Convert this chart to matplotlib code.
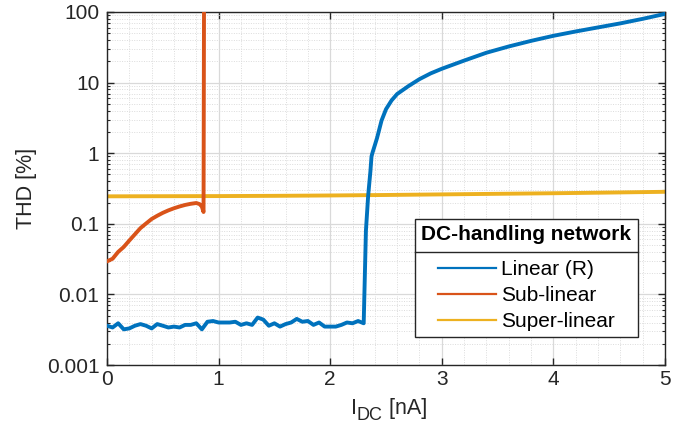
import numpy as np
import matplotlib
matplotlib.use("Agg")
import matplotlib.pyplot as plt
from matplotlib.lines import Line2D
from matplotlib.ticker import MultipleLocator, LogLocator, NullFormatter

plt.rcParams['font.family'] = ['Liberation Sans', 'DejaVu Sans']

# ---- data -------------------------------------------------------------
# Linear (R): noise floor up to 2.3 nA, then breakdown
linear_x = [0.00, 0.05, 0.10, 0.15, 0.20, 0.25, 0.30, 0.35, 0.40, 0.45,
            0.50, 0.55, 0.60, 0.65, 0.70, 0.75, 0.80, 0.85, 0.90, 0.95,
            1.00, 1.05, 1.10, 1.15, 1.20, 1.25, 1.30, 1.35, 1.40, 1.45,
            1.50, 1.55, 1.60, 1.65, 1.70, 1.75, 1.80, 1.85, 1.90, 1.95,
            2.00, 2.05, 2.10, 2.15, 2.20, 2.25, 2.30,
            2.32, 2.34, 2.36, 2.37, 2.38, 2.40, 2.42, 2.46, 2.50, 2.55,
            2.60, 2.70, 2.80, 2.90, 3.00, 3.20, 3.40, 3.60, 3.80, 4.00,
            4.20, 4.40, 4.60, 4.80, 5.00]
linear_thd = [0.0036, 0.0034, 0.0039, 0.0032, 0.0033, 0.0036, 0.0038, 0.0036, 0.0033, 0.0038,
              0.0036, 0.0034, 0.0035, 0.0034, 0.0037, 0.0037, 0.0039, 0.0032, 0.0041, 0.0042,
              0.0040, 0.0040, 0.0040, 0.0041, 0.0037, 0.0039, 0.0037, 0.0047, 0.0044, 0.0036,
              0.0039, 0.0035, 0.0038, 0.0040, 0.0045, 0.0041, 0.0042, 0.0037, 0.0040, 0.0035,
              0.0035, 0.0035, 0.0037, 0.0040, 0.0039, 0.0042, 0.0039,
              0.08, 0.25, 0.55, 0.9, 1.03, 1.3, 1.65, 2.9, 4.2, 5.6,
              6.9, 8.9, 11.2, 13.5, 15.7, 20.5, 26.5, 32.5, 39.0, 46.0,
              53.0, 60.5, 69.0, 80.0, 94.0]

# Sub-linear: rises until ~0.87 nA, then diverges
sub_x = [0.00, 0.05, 0.10, 0.15, 0.20, 0.25, 0.30, 0.35, 0.40, 0.45,
         0.50, 0.55, 0.60, 0.65, 0.70, 0.75, 0.80, 0.83, 0.85, 0.865, 0.872]
sub_thd = [0.0294, 0.032, 0.040, 0.047, 0.058, 0.071, 0.087, 0.101, 0.117, 0.130,
           0.143, 0.155, 0.166, 0.176, 0.185, 0.192, 0.197, 0.190, 0.175, 0.147, 1.0e4]

# Super-linear: nearly flat
super_x = [0.0, 0.5, 1.0, 1.5, 2.0, 2.5, 3.0, 3.5, 4.0, 4.5, 5.0]
super_thd = [0.245, 0.246, 0.247, 0.249, 0.252, 0.256, 0.261, 0.266, 0.271, 0.277, 0.284]

series_labels = ['Linear (R)', 'Sub-linear', 'Super-linear']
series_colors = ['#0072BD', '#D95319', '#EDB120']
legend_title = 'DC-handling network'

y_ticks = [0.001, 0.01, 0.1, 1, 10, 100]
y_ticklabels = ['0.001', '0.01', '0.1', '1', '10', '100']
x_ticks = [0, 1, 2, 3, 4, 5]

# ---- figure -----------------------------------------------------------
fig = plt.figure(figsize=(6.89, 4.41), dpi=100)
ax = fig.add_axes([0.1553, 0.1723, 0.8099, 0.8005])

axis_col = '#262626'
ax.plot(linear_x, linear_thd, color=series_colors[0], lw=2.8, label=series_labels[0],
        solid_joinstyle='round', zorder=3)
ax.plot(sub_x, sub_thd, color=series_colors[1], lw=2.8, label=series_labels[1],
        solid_joinstyle='round', zorder=3)
ax.plot(super_x, super_thd, color=series_colors[2], lw=2.8, label=series_labels[2],
        solid_joinstyle='round', zorder=2)

ax.set_yscale('log')
ax.set_xlim(0, 5)
ax.set_ylim(1e-3, 100)
ax.set_yticks(y_ticks)
ax.set_yticklabels(y_ticklabels)
ax.yaxis.set_minor_locator(LogLocator(base=10, subs=np.arange(2, 10), numticks=20))
ax.yaxis.set_minor_formatter(NullFormatter())
ax.set_xticks(x_ticks)
ax.xaxis.set_minor_locator(MultipleLocator(0.2))

ax.grid(True, which='major', color='#d9d9d9', lw=0.9, ls='-', zorder=0)
ax.grid(True, which='minor', color='#dcdcdc', lw=0.7, ls=(0, (1, 1.5)), zorder=0)
ax.set_axisbelow(True)

for sp in ax.spines.values():
    sp.set_color(axis_col)
    sp.set_linewidth(1.0)

ax.tick_params(which='both', direction='in', top=True, right=True, colors=axis_col,
               labelcolor=axis_col, labelsize=15)
ax.tick_params(which='major', length=4.8, width=1.0)
ax.tick_params(axis='y', which='minor', length=2.4, width=0.8)
ax.tick_params(axis='x', which='minor', length=0)
ax.tick_params(axis='x', which='major', pad=3.5)
ax.tick_params(axis='y', which='major', pad=5.5)

ax.set_ylabel('THD [%]', fontsize=15.5, color=axis_col)
ax.yaxis.set_label_coords(-0.125, 0.5)

# ---- legend -----------------------------------------------------------
handles = [Line2D([], [], color=c, lw=1.6) for c in series_colors]
leg = ax.legend(handles, series_labels, title=legend_title,
                title_fontproperties={'weight': 'bold', 'size': 15},
                fontsize=15, loc='lower right', bbox_to_anchor=(0.951, 0.0785),
                borderaxespad=0, fancybox=False, framealpha=1,
                edgecolor=axis_col, borderpad=0.3, labelspacing=0.33,
                handlelength=2.8, handletextpad=0.25)
leg.get_frame().set_linewidth(1.0)
leg._legend_box.sep = 11.5

# ---- x label: I with a subscript DC, then the unit --------------------
fig.canvas.draw()
renderer = fig.canvas.get_renderer()
W, H = fig.bbox.width, fig.bbox.height
label_parts = [('I', 15.5, 0.0), ('DC', 13.0, -6.5), (' [nA]', 15.5, 0.0)]
base_y = H - 414.0
parts = []
for s, size, dy in label_parts:
    t = fig.text(0, 0, s, fontsize=size, color=axis_col, ha='left', va='baseline')
    parts.append((t, dy))
fig.canvas.draw()
widths = [t.get_window_extent(renderer).width for t, _ in parts]
ax_bb = ax.get_window_extent(renderer)
xc = 0.5 * (ax_bb.x0 + ax_bb.x1) + 3
xpos = xc - sum(widths) / 2
for (t, dy), w in zip(parts, widths):
    t.set_position((xpos / W, (base_y + dy) / H))
    xpos += w

# ---- separator between legend title and entries -----------------------
fig.canvas.draw()
lb = leg.get_window_extent(renderer)
tb = leg.get_title().get_window_extent(renderer)
first = leg.get_texts()[0].get_window_extent(renderer)
ysep = 0.5 * (tb.y0 + first.y1)
inv = fig.transFigure.inverted()
(x0, y0) = inv.transform((lb.x0, ysep))
(x1, _) = inv.transform((lb.x1, ysep))
fig.add_artist(Line2D([x0, x1], [y0, y0], transform=fig.transFigure,
                      color=axis_col, lw=1.0, zorder=10))

fig.savefig('out.png', dpi=100)
